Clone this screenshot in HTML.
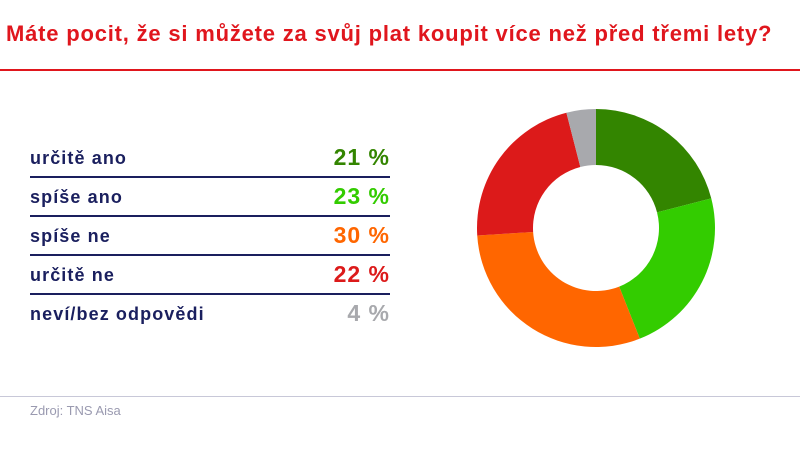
<!DOCTYPE html>
<html><head><meta charset="utf-8"><style>
body{margin:0;width:800px;height:449px;background:#fff;font-family:"Liberation Sans",sans-serif;position:relative;overflow:hidden}
.t{position:absolute;left:6px;top:21px;font-size:22px;font-weight:bold;color:#e0161d;white-space:nowrap;letter-spacing:0.8px}
.rl{position:absolute;left:0;top:69px;width:800px;height:2px;background:#e0161d}
.row{position:absolute;left:30px;width:360px;height:39px}
.row .l{position:absolute;left:0;bottom:7px;font-size:18px;color:#1a1f5e;font-weight:bold;letter-spacing:1.1px;white-space:nowrap}
.row .v{position:absolute;right:0;bottom:5px;font-size:23px;font-weight:bold;letter-spacing:1px;white-space:nowrap}
.sep{position:absolute;left:30px;width:360px;height:2px;background:#1a1f5e}
.bl{position:absolute;left:0;top:396px;width:800px;height:1px;background:#c8c8d8}
.src{position:absolute;left:30px;top:403px;font-size:13px;color:#9a9ab0}
</style></head><body>
<div class="t">Máte pocit, že si můžete za svůj plat koupit více než před třemi lety?</div>
<div class="rl"></div>
<div id="legend"></div>
<svg id="donut" width="800" height="449" style="position:absolute;left:0;top:0"></svg>
<div class="bl"></div>
<div class="src">Zdroj: TNS Aisa</div>
<script>
const categories=["určitě ano","spíše ano","spíše ne","určitě ne","neví/bez odpovědi"];
const values=[21,23,30,22,4];
const colors=["#338500","#33cc00","#ff6600","#dc1a1a","#a8a9ad"];
const leg=document.getElementById('legend');
const rowTop=137,rowH=39;
categories.forEach((c,i)=>{
  const r=document.createElement('div');r.className='row';r.style.top=(rowTop+i*rowH)+'px';
  
  
  r.innerHTML='<span class="l">'+c+'</span><span class="v" style="color:'+colors[i]+'">'+values[i]+' %</span>';
  leg.appendChild(r);
  if(i<categories.length-1){const s=document.createElement('div');s.className='sep';s.style.top=(rowTop+(i+1)*rowH)+'px';
  
  
  leg.appendChild(s);}
});
const svg=document.getElementById('donut');const cx=596,cy=228,R=119,r0=63;
const tot=values.reduce((a,b)=>a+b,0);let a0=0;
function pt(a,rad){return [cx+rad*Math.sin(a),cy-rad*Math.cos(a)];}
values.forEach((v,i)=>{
  const a1=a0+v/tot*2*Math.PI;const lg=(a1-a0)>Math.PI?1:0;
  const p1=pt(a0,R),p2=pt(a1,R),p3=pt(a1,r0),p4=pt(a0,r0);
  const p=document.createElementNS('http://www.w3.org/2000/svg','path');
  p.setAttribute('d',`M${p1}A${R},${R} 0 ${lg} 1 ${p2}L${p3}A${r0},${r0} 0 ${lg} 0 ${p4}Z`);
  p.setAttribute('fill',colors[i]);
  
  
  svg.appendChild(p);a0=a1;
});
</script>
</body></html>
